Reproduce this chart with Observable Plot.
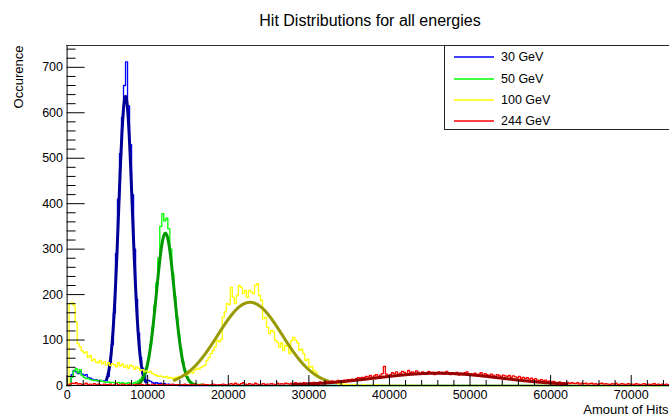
<!DOCTYPE html>
<html>
<head>
<meta charset="utf-8">
<script src="https://cdn.jsdelivr.net/npm/d3@7"></script>
<script src="https://cdn.jsdelivr.net/npm/@observablehq/plot@0.6"></script>
<style>
  html, body { margin: 0; padding: 0; background: #fff; }
  #wrap { position: relative; width: 669px; height: 419px; overflow: hidden; font-family: "Liberation Sans", Arial, sans-serif; }
  #legend { position: absolute; left: 444px; top: 45px; width: 240px; height: 85px; border: 1px solid #222; background: #fff; box-sizing: border-box; }
  .row { position: absolute; left: 0; height: 20px; width: 200px; }
  .sw { position: absolute; left: 8px; top: 0; }
  .lb { position: absolute; left: 56px; top: 2px; font-size: 12.5px; line-height: 16px; color: #000; white-space: nowrap; }
</style>
</head>
<body>
<div id="wrap"><div id="chart"></div><div id="legend"></div></div>
<script>
// ---- data (bin width 250 hits, bins start at 0) ----
const binWidth = 250;
const nBins = 300;
const seriesNames = ["30 GeV", "50 GeV", "100 GeV", "244 GeV"];
const histColors = ["#0000ff", "#00ff00", "#ffff00", "#ff0000"];
const fitColors = ["#000099", "#009900", "#999900", "#990000"];

const hist30 = [0,0,24,33,30,26,31,25,22,24, 18,16,14,12,13,10,11,9,10,11,
  20,45,90,160,290,410,510,590,660,712, 615,530,420,300,190,115,62,38,28,12,
  11,9,6,5,6,4,5,3,4,2, 3,2,1,2,1];

const hist50 = [0,0,18,32,37,28,35,22,18,15, 16,13,12,11,12,10,11,9,8,7,
  8,6,7,6,5,7,5,6,5,4, 6,5,4,6,8,10,14,19,28,40,
  60,90,128,175,225,280,350,378,362,368, 345,300,245,195,150,112,80,52,34,20,
  12,8,5,4,3,2,3,1,2,1];

const hist100 = [0,180,183,176,140,92,85,76,72,74, 62,66,55,58,52,50,55,48,52,45,
  50,44,48,46,41,50,43,47,40,44, 38,45,42,36,41,38,33,35,30,32,
  29,31,26,24,22,20,21,19,18,20, 16,18,15,17,18,20,19,22,24,23,
  27,30,28,34,38,36,40,42,45,55, 62,70,77,85,99,96,101,150,162,180,
  178,216,194,180,198,220,216,202,209,194, 209,206,202,220,224,198,187,147,150,128,
  114,121,118,99,95,84,94,77,88,86, 70,99,106,100,94,77,80,70,55,58,
  40,42,33,30,18,16,15,14,11,10, 8,7,5,6,4,3,4,2,3,2,
  1,1,2,1,0,1,1,2,0,1, 1,0,1,2,1,0,1,0,1,1, 0,1,0,0,1,0,1,0,0,1,
  0,0,1,0,0,0,1,0,0,0];

const hist244 = [0,3,5,4,6,3,4,2,3,5, 2,3,1,4,2,3,2,1,3,2,
  2,3,1,2,4,2,1,3,2,1, 2,3,1,2,2,1,3,2,1,2,
  2,1,3,2,1,2,2,3,1,2, 1,2,3,1,2,2,1,2,3,2,
  1,2,2,3,1,2,1,3,2,2, 1,2,3,2,1,2,2,3,2,1,
  3,4,2,5,3,2,4,6,3,2, 4,3,2,5,3,2,3,4,2,3,
  3,4,3,2,5,3,4,3,5,4, 3,5,4,6,4,5,3,6,5,4,
  6,5,7,5,6,8,6,7,9,8, 7,10,9,8,11,10,9,12,11,13,
  12,14,13,15,17,16,18,17,20,19, 22,18,21,24,20,23,26,42,25,22,
  24,28,26,30,25,27,31,29,26,33, 28,30,27,32,29,26,30,28,25,31,
  27,29,24,28,30,26,29,25,31,27, 24,28,26,29,23,27,25,28,30,24,
  26,24,27,23,25,28,22,26,24,21, 25,23,20,24,22,19,23,21,20,22,
  18,21,19,17,20,16,18,15,17,14, 16,13,15,12,11,13,10,12,9,10,
  8,9,7,6,8,5,6,5,7,4, 6,5,4,6,3,5,4,5,3,4,
  5,3,4,2,4,5,3,4,3,2, 4,3,5,2,3,4,3,2,4,3,
  3,2,4,3,2,3,4,2,3,2, 3,4,2,3,2,3,2,3,2,2];

// Gaussian fit parameters: constant, mean, sigma, fit range
const fitConst = [636, 335, 183, 27];
const fitMean  = [7250, 12200, 22700, 46000];
const fitSigma = [850, 1120, 4000, 7800];
const fitLo    = [4900, 8500, 13300, 28000];
const fitHi    = [9800, 15800, 32500, 62000];

// axis ticks
const xMajor = [0,10000,20000,30000,40000,50000,60000,70000];
const xMinor = d3.range(0, 75001, 2000).filter(v => v % 10000 !== 0);
const yMajor = [0,100,200,300,400,500,600,700];
const yMinor = d3.range(0, 748, 20).filter(v => v % 100 !== 0);

const yMax = 748, xMax = 75000;

// ---- build ----
function stepPoints(vals) {
  const pts = [];
  for (let i = 0; i < nBins; i++) {
    const v = i < vals.length ? vals[i] : 0;
    pts.push({x: i * binWidth, y: v}, {x: (i + 1) * binWidth, y: v});
  }
  return pts;
}
function fitPoints(k) {
  return d3.range(fitLo[k], fitHi[k] + 1, 50).map(x => ({
    x, y: fitConst[k] * Math.exp(-0.5 * ((x - fitMean[k]) / fitSigma[k]) ** 2)
  }));
}
const hists = [hist30, hist50, hist100, hist244];

const marks = [];
hists.forEach((h, k) => {
  marks.push(Plot.line(stepPoints(h), {x: "x", y: "y", stroke: histColors[k], strokeWidth: 1.3}));
  marks.push(Plot.line(fitPoints(k), {x: "x", y: "y", stroke: fitColors[k], strokeWidth: 3}));
});

// ticks pointing inward (pixel lengths converted to data units)
const xMajLen = 10 / 340 * yMax, xMinLen = 5 / 340 * yMax;
const yMajLen = 18 / 604 * xMax, yMinLen = 9 / 604 * xMax;
marks.push(
  Plot.ruleX(xMajor, {x: d => d, y1: 0, y2: xMajLen, stroke: "#000"}),
  Plot.ruleX(xMinor, {x: d => d, y1: 0, y2: xMinLen, stroke: "#000"}),
  Plot.ruleY(yMajor, {y: d => d, x1: 0, x2: yMajLen, stroke: "#000"}),
  Plot.ruleY(yMinor, {y: d => d, x1: 0, x2: yMinLen, stroke: "#000"}),
  Plot.ruleX([0], {stroke: "#000"}),
  Plot.ruleY([0], {stroke: "#000"}),
  Plot.ruleY([yMax], {stroke: "#333"}),
  Plot.axisX(xMajor, {anchor: "bottom", tickSize: 0, tickPadding: 4.5, tickFormat: d => String(d), fontSize: 12.5, label: null}),
  Plot.axisY(yMajor, {anchor: "left", tickSize: 0, tickPadding: 3.5, tickFormat: d => String(d), fontSize: 12.5, label: null}),
  Plot.text(["Hit Distributions for all energies"], {text: d => d, frameAnchor: "top", dy: -25, dx: 2, fontSize: 16, lineAnchor: "middle"}),
  Plot.text(["Occurence"], {text: d => d, frameAnchor: "top-left", rotate: -90, textAnchor: "end", dx: -48, fontSize: 13, lineAnchor: "middle"}),
  Plot.text(["Amount of Hits"], {text: d => d, frameAnchor: "bottom-right", textAnchor: "end", dy: 24, dx: -1, fontSize: 13, lineAnchor: "middle"})
);

const chart = Plot.plot({
  width: 669, height: 419,
  marginLeft: 66, marginRight: 0, marginTop: 45, marginBottom: 34,
  x: {domain: [0, xMax], range: [66.6, 671]},
  y: {domain: [0, yMax], range: [385, 45]},
  style: {fontFamily: "'Liberation Sans', Arial, sans-serif", background: "white", color: "#000"},
  marks
});
document.getElementById("chart").appendChild(chart);

// legend
const legend = document.getElementById("legend");
const rowTops = [1, 22.5, 44, 65];
const NS = "http://www.w3.org/2000/svg";
seriesNames.forEach((name, k) => {
  const row = document.createElement("div");
  row.className = "row";
  row.style.top = rowTops[k] + "px";
  const sw = document.createElementNS(NS, "svg");
  sw.setAttribute("class", "sw");
  sw.setAttribute("width", "42");
  sw.setAttribute("height", "20");
  const ln = document.createElementNS(NS, "line");
  ln.setAttribute("x1", "1"); ln.setAttribute("x2", "41");
  ln.setAttribute("y1", "10"); ln.setAttribute("y2", "10");
  ln.setAttribute("stroke", histColors[k]);
  ln.setAttribute("stroke-width", "1.3");
  sw.appendChild(ln);
  const lb = document.createElement("div");
  lb.className = "lb";
  lb.textContent = name;
  row.appendChild(sw); row.appendChild(lb);
  legend.appendChild(row);
});
</script>
</body>
</html>
